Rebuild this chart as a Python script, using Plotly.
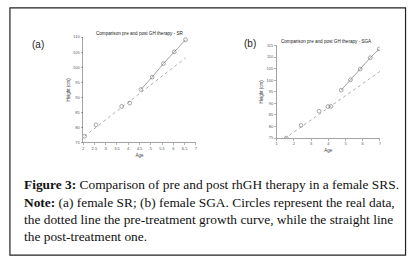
import plotly.graph_objects as go

W, H = 414, 264

# ---- data: panel (a) female SR ----
a_age = [2.06, 2.57, 3.71, 4.07, 4.56, 5.06, 5.56, 6.04, 6.54]
a_height = [77.1, 80.9, 87.0, 88.1, 92.6, 96.7, 101.2, 105.1, 109.1]
a_pre_age = [2.06, 6.55]
a_pre_height = [77.1, 103.1]
a_post_age = [4.56, 5.06, 5.56, 6.04, 6.54]
a_post_height = [92.6, 96.7, 101.2, 105.1, 109.1]

# ---- data: panel (b) female SGA ----
b_age = [1.56, 2.42, 3.46, 3.98, 4.15, 4.75, 5.29, 5.85, 6.44, 6.96]
b_height = [75.0, 80.5, 86.6, 88.6, 88.7, 95.7, 100.2, 104.8, 109.7, 113.5]
b_pre_age = [1.45, 7.0]
b_pre_height = [74.7, 103.8]
b_post_age = [4.75, 5.29, 5.85, 6.44, 6.96]
b_post_height = [95.7, 100.2, 104.8, 109.7, 113.5]

title_a = "Comparison pre and post GH therapy - SR"
title_b = "Comparison pre and post GH therapy - SGA"

caption = [
    "<b>Figure 3:</b> Comparison of pre and post rhGH therapy in a female SRS.",
    "<b>Note:</b> (a) female SR; (b) female SGA. Circles represent the real data,",
    "the dotted line the pre-treatment growth curve, while the straight line",
    "the post-treatment one.",
]

def px_x(p):
    return p / W

def px_y(p):
    return 1 - p / H

LINE = "#8c8c8c"
MK = "#707070"
SANS = "Liberation Sans"

fig = go.Figure()

def add_panel(xa, ya, age, h, pre_x, pre_y, post_x, post_y):
    fig.add_trace(go.Scatter(x=pre_x, y=pre_y, mode="lines", xaxis=xa, yaxis=ya,
                             line=dict(color=LINE, width=0.7, dash="dot"), showlegend=False))
    fig.add_trace(go.Scatter(x=post_x, y=post_y, mode="lines", xaxis=xa, yaxis=ya,
                             line=dict(color=LINE, width=0.8), showlegend=False))
    fig.add_trace(go.Scatter(x=age, y=h, mode="markers", xaxis=xa, yaxis=ya,
                             marker=dict(symbol="circle-open", size=3.8, color=MK,
                                         line=dict(width=0.6, color=MK)),
                             showlegend=False))

add_panel("x", "y", a_age, a_height, a_pre_age, a_pre_height, a_post_age, a_post_height)
add_panel("x2", "y2", b_age, b_height, b_pre_age, b_pre_height, b_post_age, b_post_height)

axis_common = dict(showline=True, linecolor="#666", linewidth=0.6, ticks="outside",
                   ticklen=2, tickwidth=0.5, tickcolor="#666", showgrid=False,
                   zeroline=False, tickfont=dict(size=4, family=SANS, color="#555"),
                   fixedrange=True)
tfont = dict(size=4.5, family=SANS, color="#444")

fig.update_layout(
    width=W, height=H, margin=dict(l=0, r=0, t=0, b=0),
    paper_bgcolor="white", plot_bgcolor="white",
    xaxis=dict(domain=[px_x(82.7), px_x(196.3)], range=[2, 7], dtick=0.5, tick0=2,
               anchor="y", title=dict(text="Age", font=tfont, standoff=3),
               **axis_common),
    yaxis=dict(domain=[px_y(142.3), px_y(34.7)], range=[75, 110], dtick=5, tick0=75,
               anchor="x", title=dict(text="Height (cm)", font=tfont, standoff=2),
               **axis_common),
    xaxis2=dict(domain=[px_x(277.7), px_x(381.7)], range=[1, 7], dtick=1, tick0=1,
                anchor="y2", title=dict(text="Age", font=tfont, standoff=3),
                **axis_common),
    yaxis2=dict(domain=[px_y(137.7), px_y(43.3)], range=[75, 115], dtick=5, tick0=75,
                anchor="x2", title=dict(text="Height (cm)", font=tfont, standoff=2),
                **axis_common),
)

annotations = [
    dict(text=title_a, x=px_x(139.5), y=px_y(30.7), xref="paper", yref="paper",
         showarrow=False, xanchor="center", yanchor="middle",
         font=dict(size=4.6, family=SANS, color="#222")),
    dict(text=title_b, x=px_x(328), y=px_y(39.7), xref="paper", yref="paper",
         showarrow=False, xanchor="center", yanchor="middle",
         font=dict(size=4.6, family=SANS, color="#222")),
    dict(text="(a)", x=px_x(29), y=px_y(42), xref="paper", yref="paper",
         showarrow=False, xanchor="left", yanchor="middle",
         font=dict(size=10, family=SANS, color="#222")),
    dict(text="(b)", x=px_x(243), y=px_y(41), xref="paper", yref="paper",
         showarrow=False, xanchor="left", yanchor="middle",
         font=dict(size=10, family=SANS, color="#222")),
]
line_y = [185, 203, 220.5, 238]
for txt, yy in zip(caption, line_y):
    annotations.append(dict(text=txt, x=px_x(21), y=px_y(yy), xref="paper", yref="paper",
                            showarrow=False, xanchor="left", yanchor="middle",
                            font=dict(size=13.4, family="Liberation Serif", color="#111")))
fig.update_layout(annotations=annotations)

fig.add_shape(type="rect", xref="paper", yref="paper",
              x0=px_x(9), x1=px_x(407.5), y0=px_y(257), y1=px_y(5),
              line=dict(color="#222", width=1.2), fillcolor="rgba(0,0,0,0)")

fig.write_html("out.html", config={"displayModeBar": False, "staticPlot": True},
               post_script="document.body.style.margin='0px';document.body.style.overflow='hidden';")
